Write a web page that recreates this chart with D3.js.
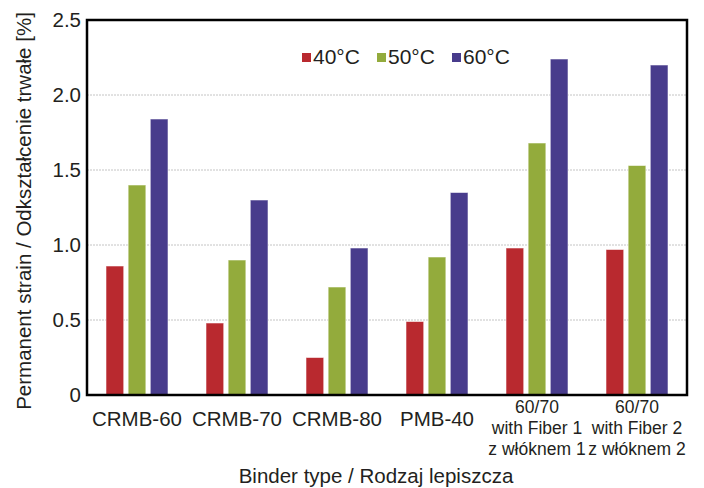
<!DOCTYPE html>
<html>
<head>
<meta charset="utf-8">
<script src="https://cdn.jsdelivr.net/npm/d3@7"></script>
<style>
  body { margin: 0; background: #fff; }
  svg { display: block; font-family: "Liberation Sans", Arial, sans-serif; }
  .grid line { stroke: #c4c4c4; stroke-width: 1; stroke-dasharray: 2,1; }
  text { fill: #231f20; }
</style>
</head>
<body>
<svg width="704" height="488"></svg>
<script>
var binders = ["CRMB-60", "CRMB-70", "CRMB-80", "PMB-40", "60/70 with Fiber 1", "60/70 with Fiber 2"];
var binderLines = [
  ["CRMB-60"],
  ["CRMB-70"],
  ["CRMB-80"],
  ["PMB-40"],
  ["60/70", "with Fiber 1", "z włóknem 1"],
  ["60/70", "with Fiber 2", "z włóknem 2"]
];
var temps = ["40°C", "50°C", "60°C"];
var strain40 = [0.86, 0.48, 0.25, 0.49, 0.98, 0.97];
var strain50 = [1.40, 0.90, 0.72, 0.92, 1.68, 1.53];
var strain60 = [1.84, 1.30, 0.98, 1.35, 2.24, 2.20];
var yTicks = [0, 0.5, 1.0, 1.5, 2.0, 2.5];
var colors = ["#b9292f", "#93ab3c", "#483c8c"];

var svg = d3.select("svg"),
    margin = {left: 87, right: 17, top: 20, bottom: 93},
    width = 704 - margin.left - margin.right,
    height = 488 - margin.top - margin.bottom;

var rows = binders.map(function(b, i) {
  return {binder: b, lines: binderLines[i], values: [strain40[i], strain50[i], strain60[i]]};
});

var x0 = d3.scaleBand()
    .domain(binders)
    .range([0, width])
    .paddingInner(0.38)
    .paddingOuter(0.19);

var x1 = d3.scaleBand()
    .domain(d3.range(temps.length))
    .range([0, x0.bandwidth()])
    .paddingInner(0.2);

var y = d3.scaleLinear()
    .domain([0, 2.5])
    .range([height, 0]);

var g = svg.append("g")
    .attr("transform", "translate(" + margin.left + "," + margin.top + ")");

// dotted grid
g.append("g")
    .attr("class", "grid")
  .selectAll("line")
  .data(yTicks.filter(function(t) { return t > 0 && t < 2.5; }))
  .enter().append("line")
    .attr("x1", 0)
    .attr("x2", width)
    .attr("y1", function(d) { return y(d); })
    .attr("y2", function(d) { return y(d); });

// bars
var groups = g.selectAll(".group")
    .data(rows)
  .enter().append("g")
    .attr("class", "group")
    .attr("transform", function(d) { return "translate(" + x0(d.binder) + ",0)"; });

groups.selectAll("rect")
    .data(function(d) { return d.values; })
  .enter().append("rect")
    .attr("x", function(d, i) { return x1(i); })
    .attr("y", function(d) { return y(d); })
    .attr("width", x1.bandwidth())
    .attr("height", function(d) { return height - y(d); })
    .attr("fill", function(d, i) { return colors[i]; })
    .attr("stroke", "#fff")
    .attr("stroke-opacity", 0.55)
    .attr("stroke-width", 1);

// y axis labels
var yAxis = d3.axisLeft(y)
    .tickValues(yTicks)
    .tickSize(0)
    .tickPadding(6)
    .tickFormat(function(d) { return d === 0 ? "0" : d3.format(".1f")(d); });

var ya = g.append("g").call(yAxis);
ya.select(".domain").remove();
ya.selectAll("text")
    .attr("fill", "#231f20")
    .style("font-size", "20.5px")
    .style("font-family", "Liberation Sans, Arial, sans-serif");

// x labels (the fibre ones are smaller, three lines)
var xl = g.append("g")
    .attr("transform", "translate(0," + height + ")");

xl.selectAll("text")
    .data(rows)
  .enter().append("text")
    .attr("x", function(d) { return x0(d.binder) + x0.bandwidth() / 2; })
    .attr("y", function(d) { return d.lines.length > 1 ? 18 : 31; })
    .attr("text-anchor", "middle")
    .style("font-size", function(d) { return d.lines.length > 1 ? "17.5px" : "20.5px"; })
  .selectAll("tspan")
    .data(function(d) { return d.lines; })
  .enter().append("tspan")
    .attr("x", function() { var p = d3.select(this.parentNode).datum(); return x0(p.binder) + x0.bandwidth() / 2; })
    .attr("dy", function(d, i) { return i === 0 ? 0 : 21; })
    .text(function(d) { return d; });

// frame
g.append("rect")
    .attr("width", width)
    .attr("height", height)
    .attr("fill", "none")
    .attr("stroke", "#000")
    .attr("stroke-width", 2.5);

// legend
var legend = g.selectAll(".legend")
    .data(temps)
  .enter().append("g")
    .attr("class", "legend")
    .attr("transform", function(d, i) { return "translate(" + (215 + i * 75) + ",33)"; });

legend.append("rect")
    .attr("width", 9)
    .attr("height", 9)
    .attr("fill", function(d, i) { return colors[i]; });

legend.append("text")
    .attr("x", 11)
    .attr("y", 11)
    .style("font-size", "21px")
    .text(function(d) { return d; });

// axis titles
svg.append("text")
    .attr("x", 376)
    .attr("y", 483)
    .attr("text-anchor", "middle")
    .style("font-size", "20.5px")
    .text("Binder type / Rodzaj lepiszcza");

svg.append("text")
    .attr("transform", "translate(31," + 211 + ") rotate(-90)")
    .attr("text-anchor", "middle")
    .style("font-size", "20.5px")
    .text("Permanent strain / Odkształcenie trwałe [%]");
</script>
</body>
</html>
